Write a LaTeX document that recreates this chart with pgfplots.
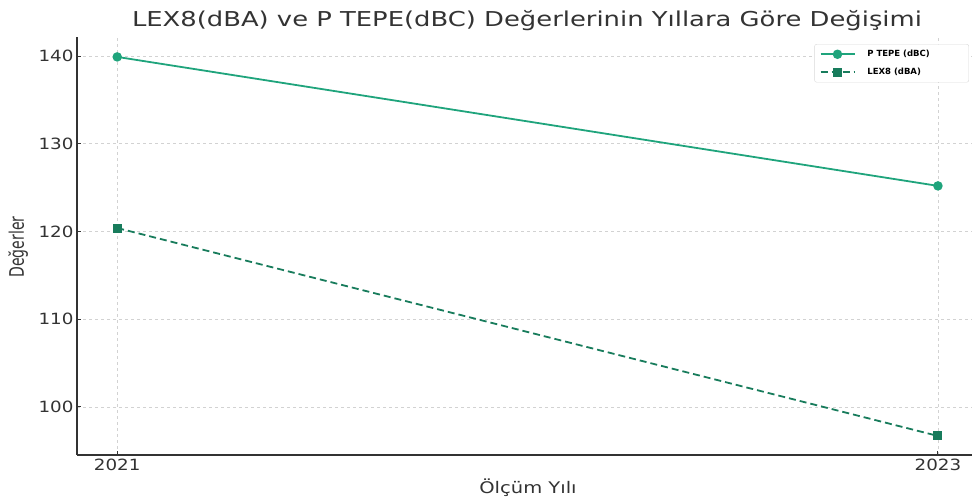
\documentclass[border=0pt]{standalone}
\usepackage{fontspec}
\setmainfont{DejaVu Sans}
\usepackage{graphicx}
\usepackage{pgfplots}
\pgfplotsset{compat=1.18}
\definecolor{ptepe}{RGB}{31,164,124}
\definecolor{lexc}{RGB}{24,124,92}
\definecolor{txt}{RGB}{51,51,51}
\newcommand{\tl}[1]{\scalebox{1.18}[1]{#1}}
\begin{document}
\begin{tikzpicture}[x=1pt,y=1pt]
\path[use as bounding box] (0,0) rectangle (972,502);
\begin{axis}[
  at={(77pt,47pt)}, anchor=south west,
  scale only axis, width=895pt, height=418pt,
  xmin=2020.902, xmax=2023.083,
  ymin=94.53, ymax=142.17,
  axis x line*=bottom, axis y line*=left,
  axis line style={txt, line width=1.3pt},
  xtick={2021,2023}, xticklabels={\tl{2021},\tl{2023}},
  ytick={100,110,120,130,140}, yticklabels={\tl{100},\tl{110},\tl{120},\tl{130},\tl{140}},
  tick align=inside, major tick length=4pt,
  tick style={txt, line width=1pt},
  ticklabel style={font=\fontsize{15.5}{18}\selectfont, text=txt},
  grid=major,
  major grid style={gray!35, dashed, line width=0.7pt},
  legend style={at={(0.9966,0.983)}, anchor=north east, draw=gray!30, rounded corners=2pt,
    font=\fontsize{8.5}{10}\selectfont\bfseries, text=black, inner xsep=5pt, inner ysep=4pt,
    row sep=6pt, /tikz/every odd column/.append style={column sep=10pt}},
  legend cell align=left,
  legend image code/.code={\draw[mark repeat=2,mark phase=2] plot coordinates {(0pt,0pt) (17pt,0pt) (34pt,0pt)};},
]
\addplot[ptepe, line width=1.8pt, mark=*, mark size=3.8pt, mark options={solid}] coordinates {(2021,139.9) (2023,125.2)};
\addlegendentry{P TEPE (dBC)\hspace*{32pt}}
\addplot[lexc, line width=1.8pt, dash pattern=on 7pt off 4pt, mark=square*, mark size=3.6pt, mark options={solid}] coordinates {(2021,120.4) (2023,96.7)};
\addlegendentry{LEX8 (dBA)}
\end{axis}
\node[text=txt] at (527,481) {\scalebox{1.26}[1]{\fontsize{20.5}{24}\selectfont LEX8(dBA) ve P TEPE(dBC) Değerlerinin Yıllara Göre Değişimi}};
\node[text=txt] at (528,14) {\scalebox{1.22}[1]{\fontsize{16}{19}\selectfont Ölçüm Yılı}};
\node[text=txt, rotate=90] at (18,255) {\scalebox{0.7}[1]{\fontsize{20}{24}\selectfont Değerler}};
\end{tikzpicture}
\end{document}
